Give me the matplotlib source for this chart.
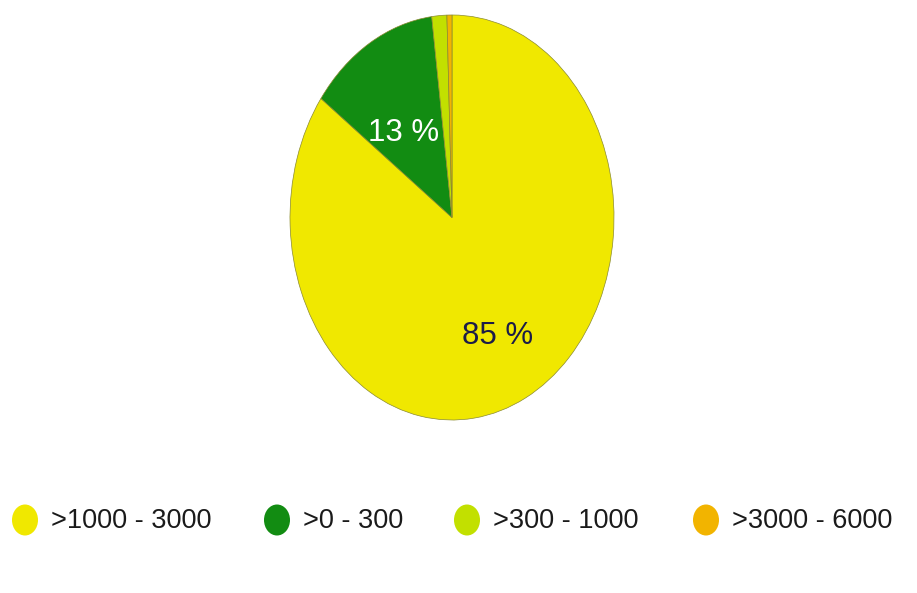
import matplotlib
matplotlib.use("Agg")
import matplotlib.pyplot as plt
from matplotlib.patches import Ellipse

categories = [">1000 - 3000", ">0 - 300", ">300 - 1000", ">3000 - 6000"]
values = [85.0, 13.0, 1.5, 0.5]
colors = ["#F0E800", "#128C12", "#C2E000", "#F2B400"]
label_texts = ["85 %", "13 %", "", ""]
label_colors = ["#1C1C48", "white", "white", "white"]

W, H = 917, 593
fig = plt.figure(figsize=(W / 100, H / 100), dpi=100)
fig.patch.set_facecolor("white")

# pie axes sized to ellipse
left, right, top, bottom = 290, 614, 15, 420
ax = fig.add_axes([left / W, 1 - bottom / H, (right - left) / W, (bottom - top) / H])
wedges, _ = ax.pie(values, colors=colors, startangle=90, counterclock=False,
                   wedgeprops=dict(edgecolor="#8a8a30", linewidth=0.5))
ax.set_aspect("auto")
ax.set_xlim(-1.0, 1.0)
ax.set_ylim(-1.0, 1.0)
ax.axis("off")

# percentage label positions (axes data units)
label_pos = [(0.28, -0.585), (-0.30, 0.415), (0, 0), (0, 0)]
for t, c, (lx, ly) in zip(label_texts, label_colors, label_pos):
    if t:
        ax.text(lx, ly, t, ha="center", va="center", fontsize=22.5, color=c,
                family="Liberation Sans")

# legend
leg_ax = fig.add_axes([0, 0, 1, 1])
leg_ax.set_xlim(0, W)
leg_ax.set_ylim(H, 0)
leg_ax.axis("off")
marker_x = [25, 277, 467, 706]
for cat, col, mx in zip(categories, colors, marker_x):
    leg_ax.add_patch(Ellipse((mx, 520), 26, 31, facecolor=col, edgecolor="none"))
    leg_ax.text(mx + 26, 521, cat, ha="left", va="center", fontsize=19.5,
                color="#1a1a1a", family="Liberation Sans")

fig.savefig("out.png", dpi=100, facecolor="white")
